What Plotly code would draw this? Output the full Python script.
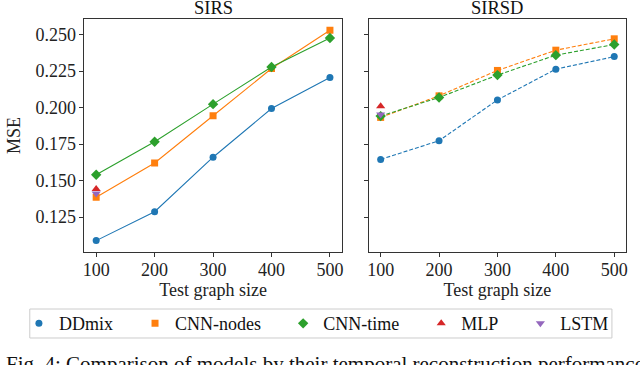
import plotly.graph_objects as go

# test graph sizes on the x axis
sizes = [100, 200, 300, 400, 500]

# SIRS panel (solid lines)
sirs_ddmix = [0.1088, 0.1286, 0.1660, 0.1994, 0.2207]
sirs_cnn_nodes = [0.1385, 0.1620, 0.1944, 0.2268, 0.2531]
sirs_cnn_time = [0.1540, 0.1766, 0.2024, 0.2279, 0.2478]
sirs_mlp = [0.1442]
sirs_lstm = [0.1412]

# SIRSD panel (dashed lines)
sirsd_ddmix = [0.1645, 0.1773, 0.2053, 0.2264, 0.2350]
sirsd_cnn_nodes = [0.1933, 0.2081, 0.2255, 0.2394, 0.2472]
sirsd_cnn_time = [0.1942, 0.2070, 0.2223, 0.2360, 0.2433]
sirsd_mlp = [0.2010]
sirsd_lstm = [0.1953]

y_ticks = [0.125, 0.150, 0.175, 0.200, 0.225, 0.250]
x_ticks = [100, 200, 300, 400, 500]

models = ["DDmix", "CNN-nodes", "CNN-time", "MLP", "LSTM"]
colors = ["#1f77b4", "#ff7f0e", "#2ca02c", "#d62728", "#9467bd"]
symbols = ["circle", "square", "diamond", "triangle-up", "triangle-down"]
msizes = [7, 7, 8, 8, 8]

fig = go.Figure()

panels = [
    ("x", "y", "solid", [sirs_ddmix, sirs_cnn_nodes, sirs_cnn_time, sirs_mlp, sirs_lstm]),
    ("x2", "y2", "4px,2px", [sirsd_ddmix, sirsd_cnn_nodes, sirsd_cnn_time, sirsd_mlp, sirsd_lstm]),
]
for xa, ya, dash, series in panels:
    for name, col, sym, ms, vals in zip(models, colors, symbols, msizes, series):
        fig.add_trace(go.Scatter(
            x=sizes[:len(vals)], y=vals, mode="lines+markers", name=name,
            line=dict(color=col, width=1.1, dash=dash),
            marker=dict(color=col, symbol=sym, size=ms),
            xaxis=xa, yaxis=ya, showlegend=False))

# legend-only entries (markers without lines, like the original)
pad = "\u00a0\u00a0\u00a0\u2009"
for name, col, sym, ms in zip(models, colors, symbols, msizes):
    fig.add_trace(go.Scatter(
        x=[None], y=[None], mode="markers", name=name + pad,
        marker=dict(color=col, symbol=sym, size=ms)))

tick_font = dict(family="Liberation Serif", size=18, color="#222")
axis_style = dict(showline=True, linecolor="#333333", linewidth=1, mirror=True,
                  ticks="outside", ticklen=4, tickcolor="#333333", showgrid=False,
                  zeroline=False, tickfont=tick_font)

fig.update_layout(
    width=640, height=365,
    margin=dict(l=0, r=0, t=0, b=0),
    plot_bgcolor="white", paper_bgcolor="white",
    xaxis=dict(domain=[0.1297, 0.534], range=[80, 520], tickvals=x_ticks,
               ticklabelstandoff=-3,
               title=dict(text="Test graph size", font=tick_font, standoff=0),
               **axis_style),
    xaxis2=dict(domain=[0.577, 0.981], range=[80, 520], tickvals=x_ticks,
                ticklabelstandoff=-3,
                title=dict(text="Test graph size", font=tick_font, standoff=0),
                anchor="y2", **axis_style),
    yaxis=dict(domain=[0.3096, 0.948], range=[0.101, 0.2608], tickvals=y_ticks,
               tickformat=".3f",
               title=dict(text="MSE", font=tick_font, standoff=10),
               **axis_style),
    yaxis2=dict(domain=[0.3096, 0.948], range=[0.101, 0.2608], tickvals=y_ticks,
                showticklabels=False, anchor="x2", **axis_style),
    legend=dict(orientation="h", x=0.0266, xanchor="left", y=0.164, yanchor="top",
                borderwidth=0, bgcolor="rgba(0,0,0,0)",
                font=dict(family="Liberation Serif", size=18, color="#111")),
    shapes=[
        dict(type="rect", xref="paper", yref="paper",
             x0=0.0437, x1=0.959, y0=0.074, y1=0.1534,
             line=dict(color="#cccccc", width=1)),
    ],
    annotations=[
        dict(text="SIRS", x=0.3318, y=0.978, xref="paper", yref="paper",
             xanchor="center", yanchor="middle", showarrow=False,
             font=dict(family="Liberation Serif", size=18.5, color="#111")),
        dict(text="SIRSD", x=0.779, y=0.978, xref="paper", yref="paper",
             xanchor="center", yanchor="middle", showarrow=False,
             font=dict(family="Liberation Serif", size=18.5, color="#111")),
        dict(text="Fig. 4: Comparison of models by their temporal reconstruction performance",
             x=0.003, y=0.041, xref="paper", yref="paper", xanchor="left", yanchor="top",
             showarrow=False, font=dict(family="Liberation Serif", size=21, color="#111")),
    ],
)

# the page is photographed edge to edge, so drop the browser's default body margin
fig.write_html("out.html", config={"displayModeBar": False},
               post_script="document.body.style.margin='0';")
